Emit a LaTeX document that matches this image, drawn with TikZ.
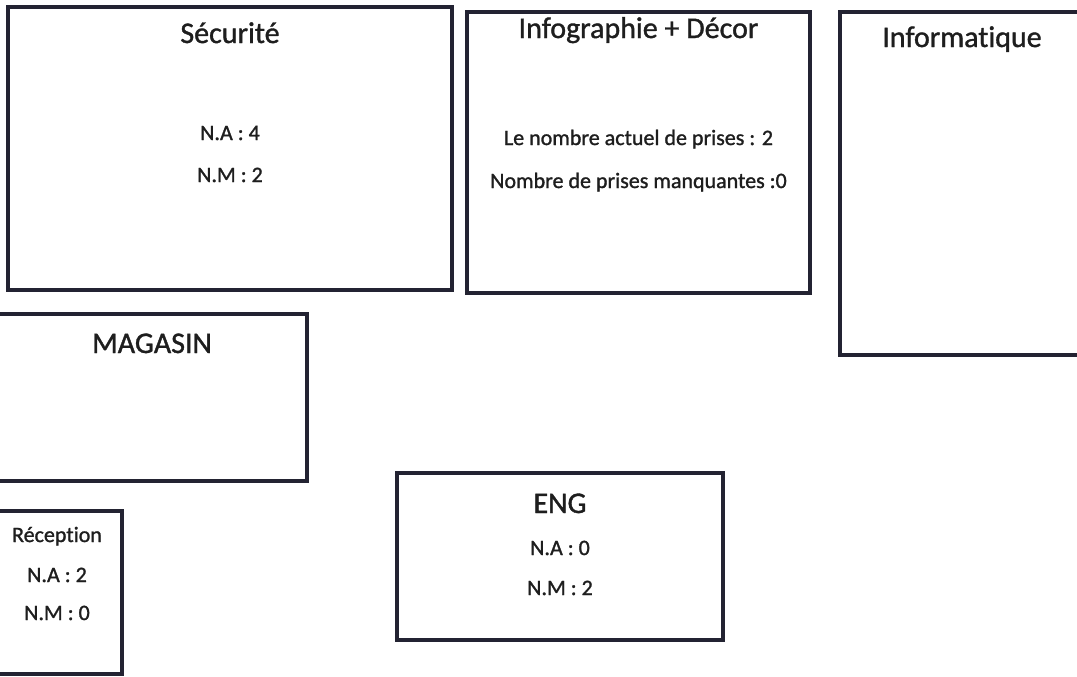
\documentclass[tikz,border=0pt]{standalone}
\usepackage{fontspec}
\setmainfont{Carlito}[Ligatures=NoCommon, FakeBold=1.2]
\usetikzlibrary{positioning}
\definecolor{roomline}{RGB}{35,35,50}
\definecolor{roomtext}{RGB}{30,30,30}

\begin{document}
\begin{tikzpicture}[x=0.5pt, y=-0.5pt, room/.style={
        rectangle,
        draw=roomline,
        line width=1.6pt,
        inner sep=0pt
    }, title/.style={
        anchor=base,
        text=roomtext,
        font=\fontsize{15}{18}\selectfont
    }, count/.style={
        anchor=base,
        text=roomtext,
        font=\fontsize{11}{13}\selectfont
    }]
    \path[use as bounding box, fill=white] (0,0) rectangle (1077,676);
    \clip (0,0) rectangle (1077,676);

    % rooms
    \node (secu) [room, minimum width=222pt, minimum height=141.5pt] at (230,148.5) {};
    \node (infog) [room, minimum width=171.5pt, minimum height=140.5pt] at (638.5,152.5) {};
    \node (infor) [room, minimum width=122pt, minimum height=171.5pt] at (962,183.5) {};
    \node (magasin) [room, minimum width=155pt, minimum height=83.5pt] at (152,397.5) {};
    \node (recep) [room, minimum width=65pt, minimum height=81.5pt] at (57,592.5) {};
    \node (eng) [room, minimum width=163pt, minimum height=83.5pt] at (560,556.5) {};

    % labels
    \node (secut) [title] at (230,43) {Sécurité};
    \node (secuna) [count] at (230,140) {N.A : 4};
    \node (secunm) [count] at (230,182) {N.M : 2};
    \node (infogt) [title] at (638.5,38) {Infographie + Décor};
    \node (infogna) [count] at (638.5,145) {Le nombre actuel de prises : 2};
    \node (infognm) [count] at (638.5,188) {Nombre de prises manquantes :0};
    \node (infort) [title] at (962,47) {Informatique};
    \node (magasint) [title] at (152,353) {MAGASIN};
    \node (recept) [count] at (57,542) {Réception};
    \node (recepna) [count] at (57,582) {N.A : 2};
    \node (recepnm) [count] at (57,620) {N.M : 0};
    \node (engt) [title] at (560,513) {ENG};
    \node (engna) [count] at (560,555) {N.A : 0};
    \node (engnm) [count] at (560,595) {N.M : 2};

\end{tikzpicture}
\end{document}
